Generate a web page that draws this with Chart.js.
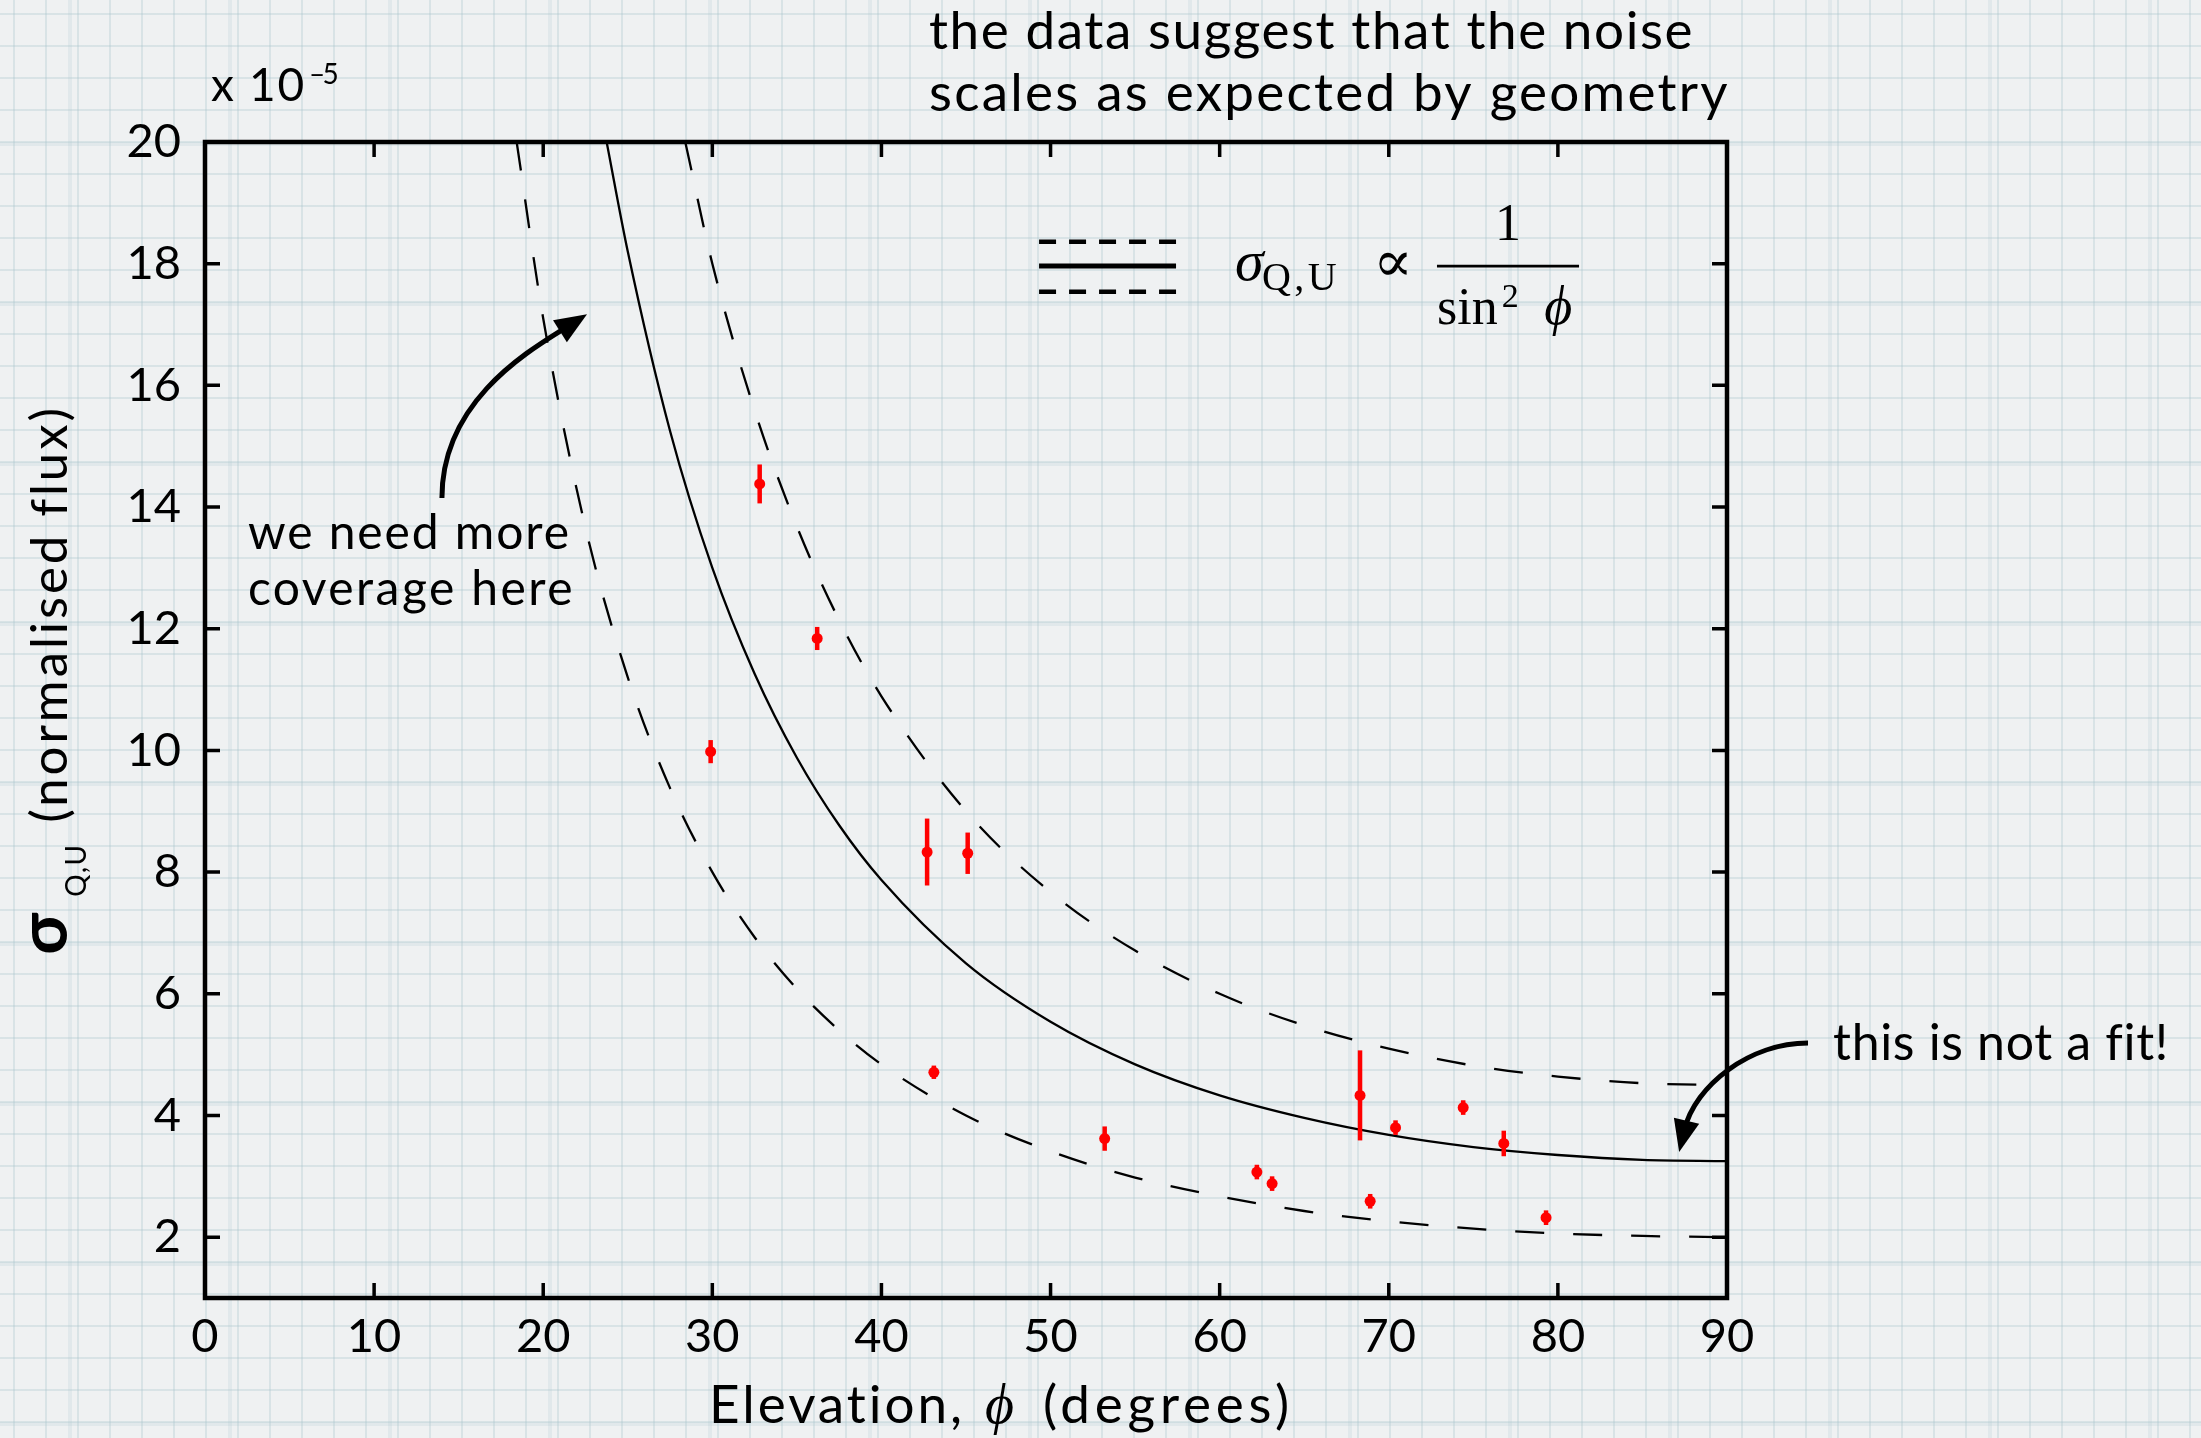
<!DOCTYPE html>
<html>
<head>
<meta charset="utf-8">
<title>Noise vs elevation</title>
<script src="https://cdn.jsdelivr.net/npm/chart.js@4.4.1/dist/chart.umd.min.js"></script>
<style>
  html, body { margin: 0; padding: 0; }
  body {
    width: 2201px; height: 1438px; overflow: hidden;
    background-color: #eff1f2;
    background-image:
      linear-gradient(to right, rgba(170,196,205,0.20) 4px, transparent 4px),
      linear-gradient(to bottom, rgba(170,196,205,0.20) 4px, transparent 4px),
      linear-gradient(to right, rgba(170,196,205,0.32) 2px, transparent 2px),
      linear-gradient(to bottom, rgba(170,196,205,0.32) 2px, transparent 2px);
    background-size: 160px 160px, 160px 160px, 32px 32px, 32px 32px;
    background-position: 68px 0, 0 142px, 13px 13px, 13px 13px;
  }
  canvas { display: block; }
</style>
</head>
<body>
<canvas id="noise" width="2201" height="1438"></canvas>
<script>
// measured points: elevation (deg), sigma_QU (x1e-5) and its error
const elevation = [29.9, 32.8, 36.2, 42.7, 43.1, 45.1, 53.2, 62.2, 63.1, 68.3, 68.9, 70.4, 74.4, 76.8, 79.3];
const sigma     = [9.98, 14.38, 11.84, 8.33, 4.71, 8.31, 3.62, 3.07, 2.88, 4.33, 2.59, 3.80, 4.13, 3.54, 2.32];
const sigmaErr  = [0.19, 0.32, 0.19, 0.55, 0.11, 0.34, 0.20, 0.12, 0.12, 0.74, 0.12, 0.12, 0.12, 0.21, 0.12];

// the three guide curves
const solidX = [23.75, 25, 27.5, 30, 32.5, 35, 37.5, 40, 45, 50, 55, 60, 65, 70, 75, 80, 85, 90];
const solidY = [20.0, 18.2, 15.25, 13.0, 11.26, 9.88, 8.77, 7.87, 6.5, 5.54, 4.84, 4.33, 3.96, 3.68, 3.48, 3.35, 3.27, 3.25];
const upperX = [28.4, 30, 32.5, 35, 37.5, 40, 45, 50, 55, 60, 65, 70, 75, 80, 85, 90];
const upperY = [20.0, 18.0, 15.59, 13.68, 12.14, 10.89, 9.0, 7.67, 6.71, 6.0, 5.48, 5.1, 4.82, 4.64, 4.53, 4.5];
const lowerX = [18.43, 20, 22.5, 25, 27.5, 30, 32.5, 35, 37.5, 40, 45, 50, 55, 60, 65, 70, 75, 80, 85, 90];
const lowerY = [20.0, 17.1, 13.66, 11.2, 9.38, 8.0, 6.93, 6.08, 5.4, 4.84, 4.0, 3.41, 2.98, 2.67, 2.43, 2.26, 2.14, 2.06, 2.02, 2.0];

const xTicks = [0, 10, 20, 30, 40, 50, 60, 70, 80, 90];
const yTicks = [2, 4, 6, 8, 10, 12, 14, 16, 18, 20];

const SANS  = "Lato, 'Noto Sans', sans-serif";
const SERIF = "'Liberation Serif', 'DejaVu Serif', serif";
const RED = '#ff0000';

const pairs = (xs, ys) => xs.map((v, i) => ({ x: v, y: ys[i] }));

// draw text, optionally stretched with letter spacing to a given width; returns advance
function put(ctx, str, px, py, font, width) {
  ctx.font = font;
  if (width) {
    const w = ctx.measureText(str).width;
    ctx.letterSpacing = ((width - w) / str.length).toFixed(2) + 'px';
  }
  ctx.fillText(str, px, py);
  const adv = ctx.measureText(str).width;
  ctx.letterSpacing = '0px';
  return adv;
}

// single glyph squeezed/stretched horizontally to a width
function glyph(ctx, ch, px, py, font, width) {
  ctx.font = font;
  const w = ctx.measureText(ch).width;
  ctx.save();
  ctx.translate(px, py);
  ctx.scale(width / w, 1);
  ctx.fillText(ch, 0, 0);
  ctx.restore();
}

function arrow(ctx, p0, c1, c2, p3, head, half) {
  const ang = Math.atan2(p3.y - c2.y, p3.x - c2.x);
  const cos = Math.cos(ang), sin = Math.sin(ang);
  const bx = p3.x - head * 0.7 * cos, by = p3.y - head * 0.7 * sin;
  ctx.beginPath();
  ctx.moveTo(p0.x, p0.y);
  ctx.bezierCurveTo(c1.x, c1.y, c2.x, c2.y, bx, by);
  ctx.stroke();
  const hx = p3.x - head * cos, hy = p3.y - head * sin;
  ctx.beginPath();
  ctx.moveTo(p3.x, p3.y);
  ctx.lineTo(hx - half * sin, hy + half * cos);
  ctx.lineTo(hx + half * sin, hy - half * cos);
  ctx.closePath();
  ctx.fill();
}

const overlay = {
  id: 'overlay',
  afterDatasetsDraw(chart) {
    // vertical error bars
    const { ctx, scales: { x, y } } = chart;
    ctx.save();
    ctx.strokeStyle = RED;
    ctx.lineWidth = 4.5;
    elevation.forEach((e, i) => {
      const px = x.getPixelForValue(e);
      ctx.beginPath();
      ctx.moveTo(px, y.getPixelForValue(sigma[i] - sigmaErr[i]));
      ctx.lineTo(px, y.getPixelForValue(sigma[i] + sigmaErr[i]));
      ctx.stroke();
    });
    ctx.restore();
  },
  afterDraw(chart) {
    const { ctx, chartArea: a, scales: { x, y } } = chart;
    const X = v => x.getPixelForValue(v), Y = v => y.getPixelForValue(v);
    const P = (u, v) => ({ x: X(u), y: Y(v) });
    ctx.save();
    ctx.strokeStyle = '#000';
    ctx.fillStyle = '#000';

    // box and inward ticks on all sides
    ctx.lineWidth = 4.5;
    ctx.strokeRect(a.left, a.top, a.right - a.left, a.bottom - a.top);
    ctx.lineWidth = 3.5;
    ctx.beginPath();
    x.ticks.forEach(t => {
      const p = X(t.value);
      ctx.moveTo(p, a.bottom); ctx.lineTo(p, a.bottom - 15);
      ctx.moveTo(p, a.top);    ctx.lineTo(p, a.top + 15);
    });
    y.ticks.forEach(t => {
      const p = Y(t.value);
      ctx.moveTo(a.left, p);  ctx.lineTo(a.left + 15, p);
      ctx.moveTo(a.right, p); ctx.lineTo(a.right - 15, p);
    });
    ctx.stroke();

    ctx.textAlign = 'left';
    ctx.textBaseline = 'alphabetic';

    // exponent label
    const w10 = put(ctx, 'x 10', X(0.35), Y(20.67), `46px ${SANS}`, 95);
    put(ctx, '\u20135', X(0.35) + w10 + 3, Y(20.95), `28px ${SANS}`, 27);

    // top note
    put(ctx, 'the data suggest that the noise', X(42.81), Y(21.53), `53px ${SANS}`, 765);
    put(ctx, 'scales as expected by geometry', X(42.81), Y(20.51), `53px ${SANS}`, 801);

    // left note + arrow
    put(ctx, 'we need more', X(2.54), Y(13.31), `48px ${SANS}`, 323);
    put(ctx, 'coverage here', X(2.54), Y(12.39), `48px ${SANS}`, 327);
    ctx.lineWidth = 5;
    arrow(ctx, P(14.01, 14.15), P(14.01, 15.76), P(19.22, 16.58), P(22.59, 17.17), 32, 13);

    // right note + arrow
    put(ctx, 'this is not a fit!', X(96.27), Y(4.91), `50px ${SANS}`, 335);
    arrow(ctx, P(94.79, 5.19), P(91.36, 5.19), P(88.11, 4.5), P(87.17, 3.4), 32, 13);

    // x axis title
    put(ctx, 'Elevation,', X(29.8), Y(-1.05), `53px ${SANS}`, 257);
    put(ctx, '\u03d5', X(46.12), Y(-1.05), `italic 56px ${SERIF}`);
    put(ctx, '(degrees)', X(49.55), Y(-1.05), `53px ${SANS}`, 251);

    // y axis title, rotated
    ctx.save();
    ctx.translate(X(-8.16), Y(6.64));
    ctx.rotate(-Math.PI / 2);
    let cx = put(ctx, '\u03c3', 0, 0, `bold 68px ${SANS}`, 54);
    cx += 4;
    cx += put(ctx, 'Q,U', cx, 19, `28px ${SANS}`, 54);
    put(ctx, '(normalised flux)', cx + 20, 0, `51px ${SANS}`, 418);
    ctx.restore();

    // legend: dashed / solid / dashed sample lines
    const lx0 = X(49.32), lx1 = X(57.42);
    ctx.lineWidth = 4.5;
    ctx.setLineDash([17, 13]);
    [18.36, 17.54].forEach(v => {
      ctx.beginPath(); ctx.moveTo(lx0, Y(v)); ctx.lineTo(lx1, Y(v)); ctx.stroke();
    });
    ctx.setLineDash([]);
    ctx.lineWidth = 5;
    ctx.beginPath(); ctx.moveTo(lx0, Y(17.96)); ctx.lineTo(lx1, Y(17.96)); ctx.stroke();

    // legend formula  sigma_QU ∝ 1 / sin^2 phi
    put(ctx, '\u03c3', X(60.91), Y(17.73), `italic 58px ${SERIF}`);
    put(ctx, 'Q,U', X(62.5), Y(17.57), `40px ${SERIF}`, 78);
    glyph(ctx, '\u221d', X(69.07), Y(17.72), `58px ${SERIF}`, 40);
    const f0 = X(72.85), f1 = X(81.25), fc = (f0 + f1) / 2;
    ctx.lineWidth = 2.8;
    ctx.beginPath(); ctx.moveTo(f0, Y(17.96)); ctx.lineTo(f1, Y(17.96)); ctx.stroke();
    ctx.textAlign = 'center';
    put(ctx, '1', fc, Y(18.39), `52px ${SERIF}`);
    ctx.textAlign = 'left';
    const wSin = put(ctx, 'sin', f0, Y(17.01), `52px ${SERIF}`);
    put(ctx, '2', f0 + wSin + 4, Y(17.29), `34px ${SERIF}`);
    put(ctx, '\u03d5', X(79.2), Y(17.01), `italic 54px ${SERIF}`);

    ctx.restore();
  }
};

const curve = (xs, ys, dash, width) => ({
  type: 'scatter',
  data: pairs(xs, ys),
  showLine: true,
  borderColor: '#000',
  borderWidth: width,
  borderDash: dash,
  pointRadius: 0,
  cubicInterpolationMode: 'monotone',
});

new Chart(document.getElementById('noise'), {
  type: 'scatter',
  data: {
    datasets: [
      {
        label: 'measured',
        data: pairs(elevation, sigma),
        backgroundColor: RED,
        borderWidth: 0,
        pointRadius: 5.5,
      },
      curve(upperX, upperY, [29, 29], 2.3),
      curve(solidX, solidY, [], 2.3),
      curve(lowerX, lowerY, [29, 29], 2.3),
    ]
  },
  options: {
    responsive: false,
    devicePixelRatio: 1,
    animation: false,
    events: [],
    layout: { padding: { left: 0, top: 142, right: 474, bottom: 0 } },
    plugins: { legend: { display: false }, tooltip: { enabled: false } },
    scales: {
      x: {
        type: 'linear', min: 0, max: 90,
        afterBuildTicks: s => { s.ticks = xTicks.map(v => ({ value: v })); },
        afterFit: s => { s.height = 140; },
        grid: { display: false },
        border: { display: false },
        ticks: { color: '#000', padding: 3, autoSkip: false, maxRotation: 0, font: { family: SANS, size: 47 } },
      },
      y: {
        type: 'linear', min: 1, max: 20,
        afterBuildTicks: s => { s.ticks = yTicks.map(v => ({ value: v })); },
        afterFit: s => { s.width = 205; },
        grid: { display: false },
        border: { display: false },
        ticks: { color: '#000', padding: 16, autoSkip: false, font: { family: SANS, size: 47 } },
      }
    }
  },
  plugins: [overlay]
});
</script>
</body>
</html>
